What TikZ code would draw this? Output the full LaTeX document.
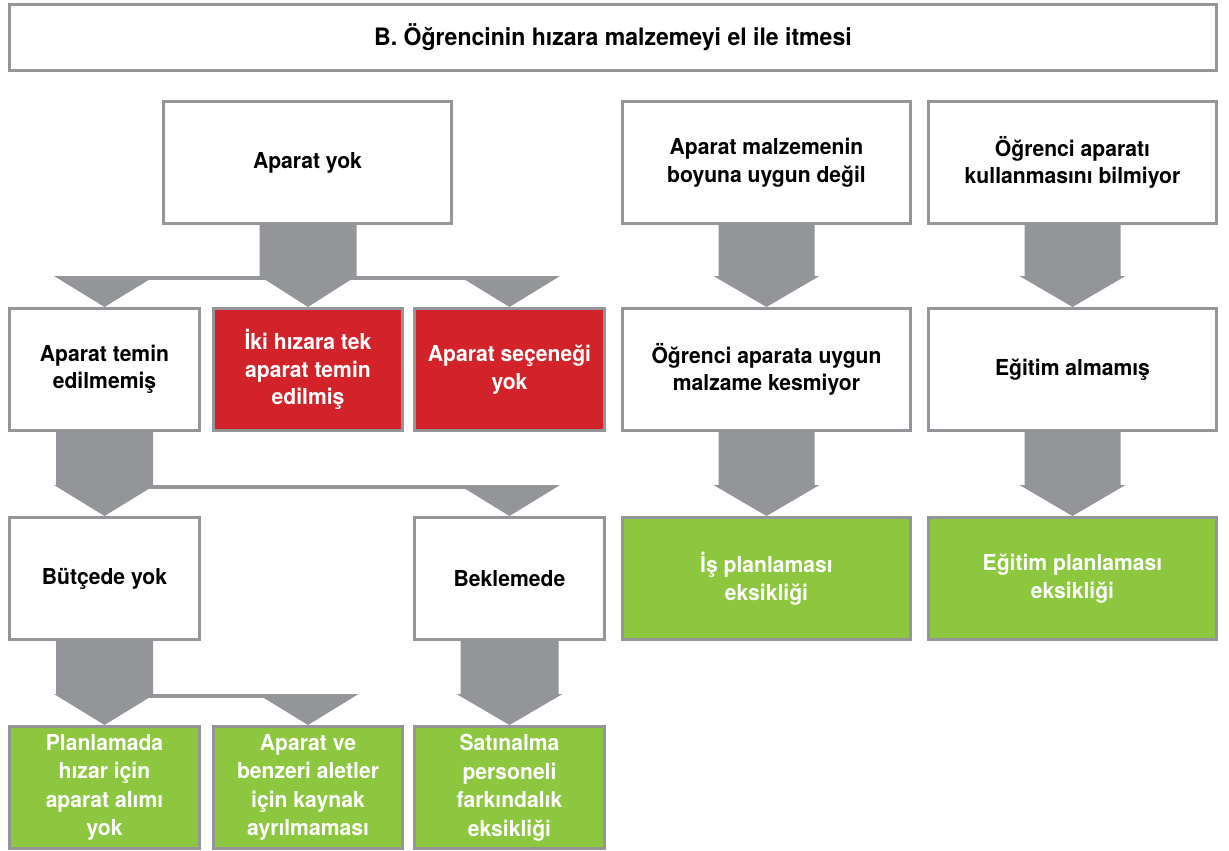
\documentclass[tikz,border=0pt]{standalone}
\usepackage{fontspec}
\setmainfont{TeX Gyre Heros}[FakeStretch=0.96]
\usetikzlibrary{calc,backgrounds}
\definecolor{bordergray}{HTML}{939598}
\definecolor{arrowgray}{HTML}{939598}
\definecolor{boxred}{HTML}{D2232A}
\definecolor{boxgreen}{HTML}{8DC63F}
\tikzset{
  box/.style={draw=bordergray, line width=3pt, fill=white, inner sep=0pt, align=center,
    font=\fontsize{22}{27.5}\selectfont\bfseries, text=black},
  redbox/.style={box, fill=boxred, text=white},
  greenbox/.style={box, fill=boxgreen, text=white},
  tallgreen/.style={greenbox, font=\fontsize{22}{28.5}\selectfont\bfseries},
  narrowbox/.style={minimum width=190pt, minimum height=122pt},
  widebox/.style={minimum width=288pt, minimum height=122pt},
  titlebox/.style={box, minimum width=1207pt, minimum height=66pt,
    font=\fontsize{24}{29}\selectfont\bfseries},
}
% arrow with shaft: from node, to node, shaft half width, head half width, head length
\newcommand\shaftarrow[5]{%
  \fill[arrowgray] let \p1=(#1.south), \p2=(#2.north) in
    (\x2-#3pt,\y1) -- (\x2+#3pt,\y1) -- (\x2+#3pt,\y2+#5pt) -- (\x2+#4pt,\y2+#5pt)
    -- (\x2,\y2) -- (\x2-#4pt,\y2+#5pt) -- (\x2-#3pt,\y2+#5pt) -- cycle;}
% head without shaft: to node, half width, head length
\newcommand\sidehead[3]{%
  \fill[arrowgray] let \p2=(#1.north) in
    (\x2-#2pt,\y2+#3pt) -- (\x2+#2pt,\y2+#3pt) -- (\x2,\y2) -- cycle;}
% connecting bar between two target nodes at head-top level
\newcommand\branchbar[2]{%
  \fill[arrowgray] let \p1=(#1.north), \p2=(#2.north) in
    (\x1,\y1+31pt) rectangle (\x2,\y1+27pt);}
\begin{document}
\begin{tikzpicture}[x=1pt,y=-1pt]
\useasboundingbox (0,0) rectangle (1229,851);

% title
\node[titlebox] (title) at (613,37.5) {B. Öğrencinin hızara malzemeyi el ile itmesi};

% row 1
\node[box,widebox] (ay)  at (307.5,162.5) {Aparat yok};
\node[box,widebox] (amb) at (766.5,162.5) {Aparat malzemenin\\boyuna uygun değil};
\node[box,widebox] (oak) at (1072.5,162.5) {Öğrenci aparatı\\kullanmasını bilmiyor};

% row 2
\node[box,narrowbox] (ate) at (104.5,369.5) {Aparat temin\\edilmemiş};
\node[redbox,narrowbox,minimum width=189pt] (iki) at (308,369.5) {İki hızara tek\\aparat temin\\edilmiş};
\node[redbox,narrowbox] (ase) at (509.5,369.5) {Aparat seçeneği\\yok};
\node[box,widebox] (oau) at (766.5,369.5) {Öğrenci aparata uygun\\malzame kesmiyor};
\node[box,widebox] (egi) at (1072.5,369.5) {Eğitim almamış};

% row 3
\node[box,narrowbox] (byk) at (104.5,578.5) {Bütçede yok};
\node[box,narrowbox] (bek) at (509.5,578.5) {Beklemede};
\node[greenbox,widebox] (isp) at (766.5,578.5) {İş planlaması\\eksikliği};
\node[greenbox,widebox] (egp) at (1072.5,578.5) {Eğitim planlaması\\eksikliği};

% row 4
\node[tallgreen,narrowbox] (pl1) at (104.5,787.5) {Planlamada\\hızar için\\aparat alımı\\yok};
\node[tallgreen,narrowbox,minimum width=189pt] (pl2) at (308,787.5) {Aparat ve\\benzeri aletler\\için kaynak\\ayrılmaması};
\node[tallgreen,narrowbox] (pl3) at (509.5,787.5) {Satınalma\\personeli\\farkındalık\\eksikliği};

\begin{scope}[on background layer]
  \fill[white] (0,0) rectangle (1229,851);
  % Aparat yok -> three causes
  \branchbar{ate}{ase}
  \shaftarrow{ay}{iki}{48.5}{48.5}{31}
  \sidehead{ate}{50.5}{31}
  \sidehead{ase}{50.5}{31}
  % Aparat temin edilmemis -> Butcede yok, Beklemede
  \branchbar{byk}{bek}
  \shaftarrow{ate}{byk}{48.5}{50.5}{31}
  \sidehead{bek}{50.5}{31}
  % Butcede yok -> pl1, pl2 ; Beklemede -> pl3
  \branchbar{pl1}{pl2}
  \shaftarrow{byk}{pl1}{48.5}{50.5}{31}
  \sidehead{pl2}{50.5}{31}
  \shaftarrow{bek}{pl3}{49}{53}{31}
  % right columns
  \shaftarrow{amb}{oau}{48}{53}{31}
  \shaftarrow{oau}{isp}{48}{53}{31}
  \shaftarrow{oak}{egi}{48}{53}{31}
  \shaftarrow{egi}{egp}{48}{53}{31}
\end{scope}
\end{tikzpicture}
\end{document}
